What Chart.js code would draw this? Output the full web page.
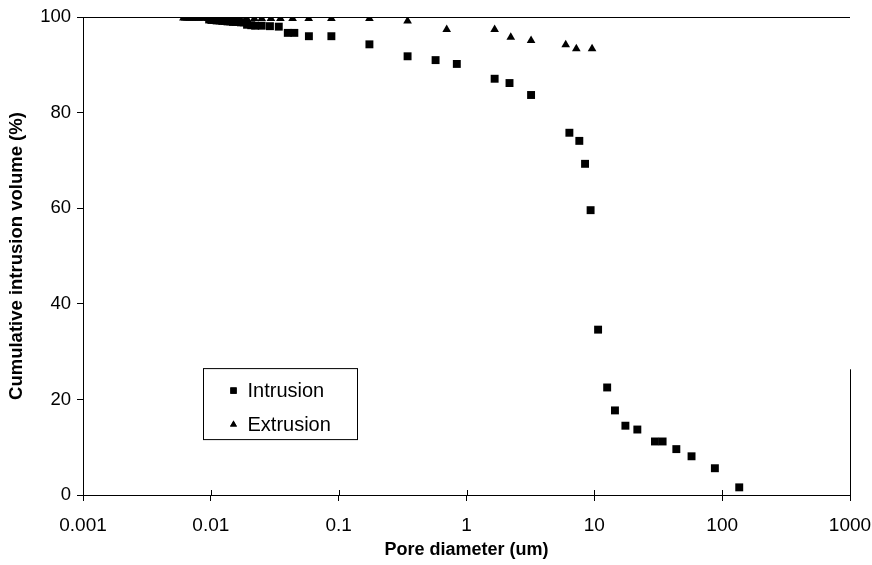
<!DOCTYPE html>
<html>
<head>
<meta charset="utf-8">
<script src="https://cdn.jsdelivr.net/npm/chart.js@4.4.1/dist/chart.umd.min.js"></script>
<style>
  html, body { margin: 0; padding: 0; background: #fff; }
  #wrap { width: 872px; height: 565px; position: relative; }
</style>
</head>
<body>
<div id="wrap"><canvas id="chart" width="872" height="565"></canvas></div>
<script>
// pore diameter (um) and cumulative volume (%)
const intrusionX = [0.0097, 0.0101, 0.0106, 0.0111, 0.0117, 0.0123, 0.0129, 0.0135, 0.0142, 0.0149, 0.0156, 0.0164, 0.0172, 0.0181,
                    0.0192, 0.0207, 0.0222, 0.0250, 0.0290, 0.0340, 0.0400, 0.0450, 0.0585, 0.0877, 0.174,
                    0.346, 0.573, 0.84, 1.66, 2.17, 3.2, 6.38, 7.63, 8.46, 9.35,
                    10.7, 12.6, 14.5, 17.5, 21.7, 29.8, 34.2, 43.8, 57.6, 87.7, 136];
const intrusionY = [99.5, 99.4, 99.4, 99.3, 99.3, 99.2, 99.2, 99.1, 99.1, 99.0, 99.0, 99.0, 98.9, 98.9,
                    98.4, 98.3, 98.2, 98.2, 98.1, 98.0, 96.7, 96.7, 96.0, 96.0, 94.3,
                    91.8, 91.0, 90.2, 87.1, 86.2, 83.7, 75.8, 74.1, 69.3, 59.6,
                    34.6, 22.5, 17.7, 14.5, 13.7, 11.2, 11.2, 9.6, 8.1, 5.6, 1.6];

const extrusionX = [0.0061, 0.0063, 0.0065, 0.0067, 0.0069, 0.0071, 0.0073, 0.0075, 0.0077, 0.0079, 0.0081, 0.0084, 0.0087, 0.0090,
                    0.0095, 0.0102, 0.0109, 0.0117, 0.0126, 0.0135, 0.0145, 0.0156, 0.0167, 0.0191, 0.0219, 0.0250,
                    0.0295, 0.0350, 0.0436, 0.0583, 0.0877, 0.174, 0.346, 0.70, 1.66, 2.22, 3.2, 5.97, 7.23, 9.6];
const extrusionY = [99.8, 99.8, 99.8, 99.8, 99.8, 99.8, 99.8, 99.8, 99.8, 99.8, 99.8, 99.8, 99.8, 99.8,
                    99.7, 99.7, 99.7, 99.7, 99.7, 99.7, 99.7, 99.7, 99.7, 99.7, 99.7, 99.7,
                    99.7, 99.7, 99.7, 99.7, 99.7, 99.7, 99.2, 97.4, 97.4, 95.8, 95.1, 94.2, 93.4, 93.4];

const xTicks = [0.001, 0.01, 0.1, 1, 10, 100, 1000];
const xTickLabels = ['0.001', '0.01', '0.1', '1', '10', '100', '1000'];
const yTicks = [0, 20, 40, 60, 80, 100];

const FONT = '"Liberation Sans", Arial, sans-serif';

function toPoints(xs, ys) {
    return xs.map((x, i) => ({x: x, y: ys[i]}));
}

// x ticks crossing the axis, the short right border and the boxed legend
const extras = {
    id: 'extras',
    afterDraw(chart) {
        const ctx = chart.ctx;
        const area = chart.chartArea;
        const xs = chart.scales.x;
        const ys = chart.scales.y;
        ctx.save();
        ctx.strokeStyle = '#000';
        ctx.lineWidth = 1;
        ctx.beginPath();
        xTicks.forEach(v => {
            const px = Math.round(xs.getPixelForValue(v)) + 0.5;
            ctx.moveTo(px, area.bottom);
            ctx.lineTo(px, area.bottom - 5);
        });
        const rx = Math.round(area.right) + 0.5;
        ctx.moveTo(rx, ys.getPixelForValue(26.3));
        ctx.lineTo(rx, area.bottom);
        ctx.stroke();

        // legend
        const bx = area.left + 120.5, by = area.top + 351.5, bw = 154, bh = 71;
        ctx.strokeRect(bx, by, bw, bh);
        ctx.font = '20px ' + FONT;
        ctx.fillStyle = '#000';
        ctx.textBaseline = 'middle';
        chart.data.datasets.forEach((ds, i) => {
            const cy = by + 22 + i * 34;
            Chart.helpers.drawPoint(ctx, {pointStyle: ds.pointStyle, radius: ds.pointRadius * 0.8, borderWidth: 0}, bx + 30, cy);
            ctx.fill();
            ctx.fillText(ds.label, bx + 44, cy + 1);
        });
        ctx.restore();
    }
};

new Chart(document.getElementById('chart'), {
    type: 'scatter',
    data: {
        datasets: [
            {
                label: 'Intrusion',
                data: toPoints(intrusionX, intrusionY),
                pointStyle: 'rect',
                pointRadius: 5.6,
                backgroundColor: '#000',
                borderColor: '#000',
                borderWidth: 0
            },
            {
                label: 'Extrusion',
                data: toPoints(extrusionX, extrusionY),
                pointStyle: 'triangle',
                pointRadius: 5,
                backgroundColor: '#000',
                borderColor: '#000',
                borderWidth: 0
            }
        ]
    },
    options: {
        responsive: false,
        animation: false,
        devicePixelRatio: 1,
        layout: { padding: { top: 16, right: 22, left: 0, bottom: 0 } },
        plugins: {
            legend: { display: false },
            tooltip: { enabled: false }
        },
        scales: {
            x: {
                type: 'logarithmic',
                min: 0.001,
                max: 1000,
                afterBuildTicks: scale => { scale.ticks = xTicks.map(v => ({value: v})); },
                afterFit: scale => {
                    scale.height = 70;
                    scale.paddingLeft = 0;
                    scale.paddingRight = 0;
                },
                border: { color: '#000', width: 1 },
                grid: { display: true, drawOnChartArea: false, color: '#000', tickLength: 6 },
                ticks: {
                    color: '#000',
                    font: { family: FONT, size: 19 },
                    padding: 13,
                    maxRotation: 0,
                    autoSkip: false,
                    callback: (v, i) => xTickLabels[i]
                },
                title: {
                    display: true,
                    text: 'Pore diameter (um)',
                    color: '#000',
                    font: { family: FONT, size: 18, weight: 'bold' },
                    padding: { top: 4, bottom: 4 }
                }
            },
            y: {
                min: 0,
                max: 100,
                afterBuildTicks: scale => { scale.ticks = yTicks.map(v => ({value: v})); },
                afterFit: scale => { scale.width = 83; },
                border: { color: '#000', width: 1 },
                grid: {
                    color: ctx => ctx.tick && ctx.tick.value === 100 ? '#000' : 'rgba(0,0,0,0)',
                    tickColor: '#000',
                    tickLength: 6
                },
                ticks: {
                    color: '#000',
                    font: { family: FONT, size: 18.5 },
                    padding: 6
                },
                title: {
                    display: true,
                    text: 'Cumulative intrusion volume (%)',
                    color: '#000',
                    font: { family: FONT, size: 18.5, weight: 'bold' },
                    padding: { top: 6, bottom: 4 }
                }
            }
        }
    },
    plugins: [extras]
});
</script>
</body>
</html>
